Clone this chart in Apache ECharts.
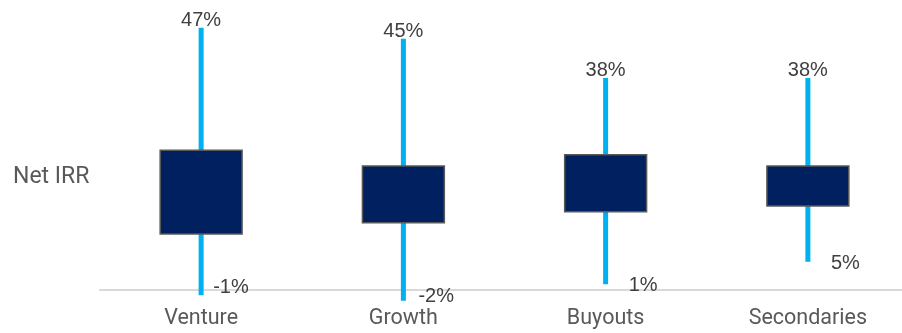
<!DOCTYPE html>
<html>
<head>
<meta charset="utf-8">
<script src="https://cdn.jsdelivr.net/npm/echarts@6/dist/echarts.min.js"></script>
<style>html,body{margin:0;padding:0;background:#fff}#c{width:902px;height:333px}</style>
</head>
<body>
<div id="c"></div>
<script>
// Data (percent)
const categories = ['Venture', 'Growth', 'Buyouts', 'Secondaries'];
const lowValues  = [-1, -2, 1, 5];
const q1Values   = [10, 12, 14, 15];
const q3Values   = [25, 22.2, 24.2, 22.2];
const highValues = [47, 45, 38, 38];
const yAxisLabel = 'Net IRR';

// Styling offsets for bottom labels (px), not data
const lowLabelDx = [12, 15, 23, 23];
const lowLabelDy = [-7.5, -4, 1.5, 1.2];

const chart = echarts.init(document.getElementById('c'));
const seriesData = categories.map((c, i) => [i, lowValues[i], q1Values[i], q3Values[i], highValues[i]]);

chart.setOption({
  animation: false,
  grid: { left: 100, width: 809, top: 11, height: 278.7, containLabel: false, outerBoundsMode: 'none' },
  xAxis: {
    type: 'category',
    data: categories,
    axisLine: { show: true, lineStyle: { color: '#d9d9d9', width: 2 } },
    axisTick: { show: false },
    axisLabel: { color: '#595959', fontSize: 21.5, fontFamily: 'Roboto', margin: 18 }
  },
  yAxis: { type: 'value', min: 0, max: 50, show: false, splitLine: { show: false } },
  graphic: [{
    type: 'text', left: 13, top: 166,
    style: { text: yAxisLabel, fill: '#595959', fontSize: 23, fontFamily: 'Roboto' }
  }],
  series: [{
    type: 'custom',
    clip: false,
    data: seriesData,
    encode: { x: 0, y: [1, 2, 3, 4] },
    renderItem: function (params, api) {
      const i = api.value(0);
      const x = api.coord([i, 0])[0];
      const yLow = api.coord([i, api.value(1)])[1];
      const yQ1 = api.coord([i, api.value(2)])[1];
      const yQ3 = api.coord([i, api.value(3)])[1];
      const yHigh = api.coord([i, api.value(4)])[1];
      const band = api.size([1, 0])[0];
      const boxW = band * 0.405;
      const wW = 5;
      return {
        type: 'group',
        children: [
          { type: 'rect', shape: { x: x - wW / 2, y: yHigh, width: wW, height: yLow - yHigh },
            style: { fill: '#00B0F0' } },
          { type: 'rect', shape: { x: x - boxW / 2, y: yQ3, width: boxW, height: yQ1 - yQ3 },
            style: { fill: '#002060', stroke: '#595959', lineWidth: 1.5 } },
          { type: 'text', x: x, y: yHigh + 3,
            style: { text: api.value(4) + '%', fill: '#404040', fontSize: 20,
              fontFamily: 'Liberation Sans', align: 'center', verticalAlign: 'bottom' } },
          { type: 'text', x: x + lowLabelDx[i], y: yLow + lowLabelDy[i],
            style: { text: api.value(1) + '%', fill: '#404040', fontSize: 20,
              fontFamily: 'Liberation Sans', align: 'left', verticalAlign: 'middle' } }
        ]
      };
    }
  }]
});
</script>
</body>
</html>
